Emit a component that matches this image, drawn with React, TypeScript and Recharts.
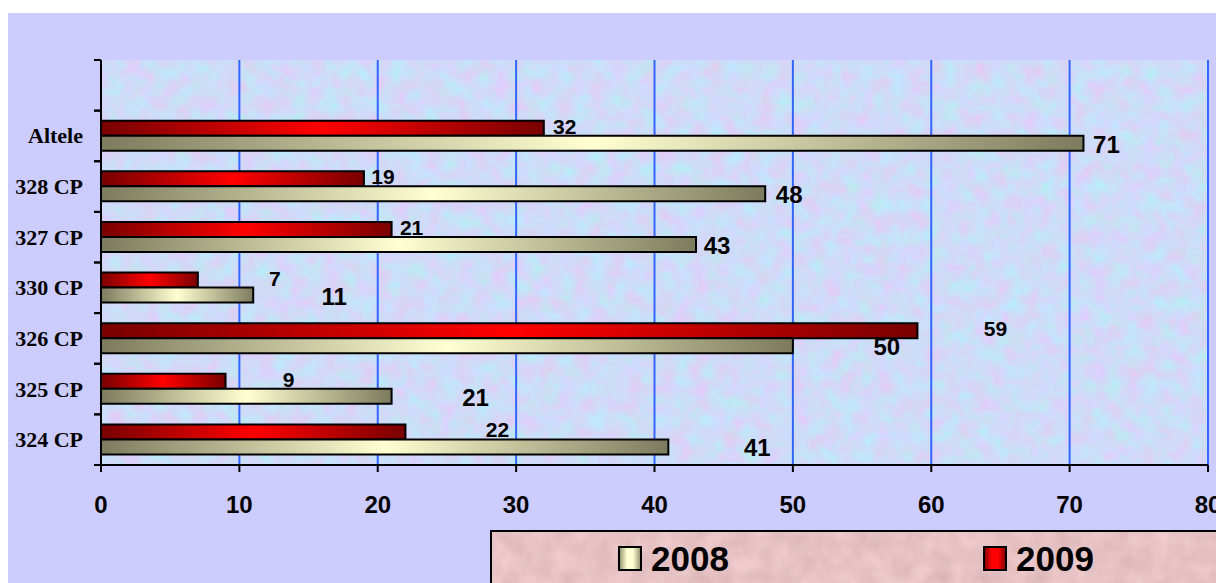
/**
 * Horizontal bar chart, 2008 vs 2009 per CP.
 * Excel-style look: textured plot area, gradient bars, hand-placed value labels.
 */

import React from 'react';
import { BarChart, Bar, XAxis, YAxis, CartesianGrid, LabelList } from 'recharts';

// Categories from top to bottom (first row is an empty slot, like the original)
const categories = ['', 'Altele', '328 CP', '327 CP', '330 CP', '326 CP', '325 CP', '324 CP'];
const values2008 = [null, 71, 48, 43, 11, 50, 21, 41];
const values2009 = [null, 32, 19, 21, 7, 59, 9, 22];
const xTicks = [0, 10, 20, 30, 40, 50, 60, 70, 80];

// Labels in the original were dragged around by hand: px right of the bar end
const shift2008 = [0, 23, 24, 21, 81, 94, 84, 89];
const shift2009 = [0, 21, 19, 20, 77, 78, 63, 92];

const CHART_W = 1216;
const CHART_H = 570;
const PLOT_LEFT = 93;
const PLOT_TOP = 47;
const PLOT_H = 405;
const BAND = PLOT_H / categories.length;

const SANS = '"Liberation Sans", Arial, sans-serif';
const SERIF = '"Liberation Serif", "Times New Roman", serif';

const data = categories.map((name, i) => ({
    name,
    v2008: values2008[i],
    v2009: values2009[i],
}));

const CategoryTick = ({ y, payload }: any) => (
    <g>
        <line x1={PLOT_LEFT - 7} x2={PLOT_LEFT} y1={y - BAND / 2} y2={y - BAND / 2} stroke="#000" strokeWidth={2} />
        <line x1={PLOT_LEFT - 7} x2={PLOT_LEFT} y1={y + BAND / 2} y2={y + BAND / 2} stroke="#000" strokeWidth={2} />
        <text
            x={PLOT_LEFT - 18}
            y={y}
            dy={7.5}
            textAnchor="end"
            fontFamily={SERIF}
            fontWeight="bold"
            fontSize={22}
            fill="#000"
        >
            {payload.value}
        </text>
    </g>
);

// row index comes from the bar's position (LabelList skips the empty row)
const makeLabel = (shift: number[], size: number, dy: number) => (props: any) => {
    const { x, y, width, height, value } = props;
    if (value == null) return null;
    const row = Math.floor((y + height / 2 - PLOT_TOP) / BAND);
    return (
        <text
            x={x + width + shift[row]}
            y={y + height / 2 + dy}
            textAnchor="middle"
            dominantBaseline="central"
            fontFamily={SANS}
            fontWeight="bold"
            fontSize={size}
            fill="#000"
        >
            {value}
        </text>
    );
};

const LegendSwatch = ({ colors }: { colors: string }) => (
    <span
        style={{
            display: 'inline-block',
            width: 20,
            height: 21,
            border: '2px solid #000',
            background: colors,
            marginRight: 9,
            verticalAlign: 'middle',
        }}
    />
);

export default function App() {
    return (
        <div style={{ paddingTop: 5 }}>
            <div style={{ position: 'relative', width: CHART_W, height: CHART_H, background: '#ccccff', overflow: 'hidden' }}>
                <BarChart
                    width={CHART_W}
                    height={CHART_H}
                    data={data}
                    layout="vertical"
                    margin={{ top: PLOT_TOP, right: 16, bottom: 78, left: 0 }}
                    barSize={15}
                    barGap={0}
                >
                    <defs>
                        <linearGradient id="g2009" x1="0" y1="0" x2="1" y2="0">
                            <stop offset="0" stopColor="#780000" />
                            <stop offset="0.5" stopColor="#ff0000" />
                            <stop offset="1" stopColor="#780000" />
                        </linearGradient>
                        <linearGradient id="g2008" x1="0" y1="0" x2="1" y2="0">
                            <stop offset="0" stopColor="#7c7b5e" />
                            <stop offset="0.5" stopColor="#ffffd2" />
                            <stop offset="1" stopColor="#7c7b5e" />
                        </linearGradient>
                        <filter id="plotNoise" x="0" y="0" width="100%" height="100%" colorInterpolationFilters="sRGB">
                            <feTurbulence type="fractalNoise" baseFrequency="0.06" numOctaves="3" seed="7" />
                            <feColorMatrix
                                type="matrix"
                                values="0.22 0 0 0 0.7  -0.18 0 0 0 0.95  0 0.08 0 0 0.93  0 0 0 0 1"
                            />
                        </filter>
                        <pattern id="plotTex" patternUnits="userSpaceOnUse" x="0" y="0" width={CHART_W} height={CHART_H}>
                            <rect width={CHART_W} height={CHART_H} fill="#cddcf5" filter="url(#plotNoise)" />
                        </pattern>
                    </defs>
                    <CartesianGrid
                        horizontal={false}
                        stroke="#3366ff"
                        strokeWidth={2}
                        fill="url(#plotTex)"
                        fillOpacity={1}
                    />
                    <XAxis
                        type="number"
                        domain={[0, 80]}
                        ticks={xTicks}
                        height={40}
                        axisLine={{ stroke: '#000', strokeWidth: 2 }}
                        tickLine={{ stroke: '#000', strokeWidth: 2 }}
                        tickSize={7}
                        tickMargin={24}
                        tick={{ fill: '#000', fontFamily: SANS, fontWeight: 'bold', fontSize: 24 }}
                    />
                    <YAxis
                        type="category"
                        dataKey="name"
                        width={PLOT_LEFT}
                        axisLine={{ stroke: '#000', strokeWidth: 2 }}
                        tickLine={false}
                        tick={<CategoryTick />}
                        interval={0}
                    />
                    <Bar dataKey="v2009" fill="url(#g2009)" stroke="#000" strokeWidth={2} isAnimationActive={false}>
                        <LabelList dataKey="v2009" content={makeLabel(shift2009, 21, -2)} />
                    </Bar>
                    <Bar dataKey="v2008" fill="url(#g2008)" stroke="#000" strokeWidth={2} isAnimationActive={false}>
                        <LabelList dataKey="v2008" content={makeLabel(shift2008, 24, 1)} />
                    </Bar>
                </BarChart>

                {/* legend box, bottom right */}
                <div
                    style={{
                        position: 'absolute',
                        left: 482,
                        top: 517,
                        width: 729,
                        height: 64,
                        border: '2px solid #000',
                        background: '#e6c3c6',
                        overflow: 'hidden',
                    }}
                >
                    <svg width={729} height={64} style={{ position: 'absolute', left: 0, top: 0 }}>
                        <filter id="legendNoise" x="0" y="0" width="100%" height="100%" colorInterpolationFilters="sRGB">
                            <feTurbulence type="fractalNoise" baseFrequency="0.05" numOctaves="3" seed="3" />
                            <feColorMatrix
                                type="matrix"
                                values="0.12 0 0 0 0.84  0.12 0 0 0 0.7  0.12 0 0 0 0.71  0 0 0 0 1"
                            />
                        </filter>
                        <rect width={729} height={64} filter="url(#legendNoise)" />
                    </svg>
                    <div
                        style={{
                            position: 'absolute',
                            left: 126,
                            top: 6,
                            fontFamily: SANS,
                            fontWeight: 'bold',
                            fontSize: 35,
                            lineHeight: '35px',
                            whiteSpace: 'nowrap',
                        }}
                    >
                        <LegendSwatch colors="linear-gradient(to right, #9a9a7a, #ffffd2 35%, #ffffd2 65%, #9a9a7a)" />
                        <span style={{ verticalAlign: 'middle' }}>2008</span>
                    </div>
                    <div
                        style={{
                            position: 'absolute',
                            left: 491,
                            top: 6,
                            fontFamily: SANS,
                            fontWeight: 'bold',
                            fontSize: 35,
                            lineHeight: '35px',
                            whiteSpace: 'nowrap',
                        }}
                    >
                        <LegendSwatch colors="linear-gradient(to right, #900000, #ff0000 35%, #ff0000 65%, #900000)" />
                        <span style={{ verticalAlign: 'middle' }}>2009</span>
                    </div>
                </div>
            </div>
        </div>
    );
}
